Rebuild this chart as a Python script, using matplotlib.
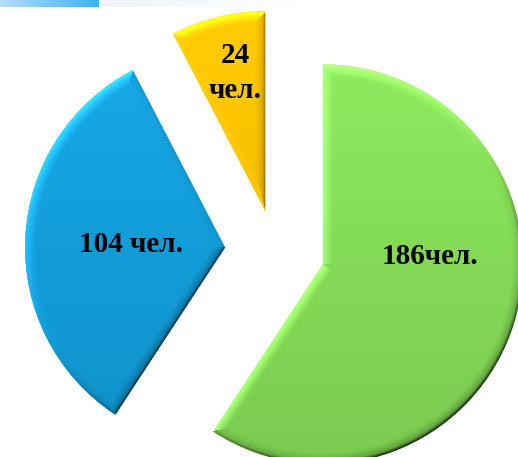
import numpy as np
import matplotlib
matplotlib.use("Agg")
import matplotlib.pyplot as plt
from matplotlib.colors import to_rgb

# ---- data ----
values = [186, 104, 24]
labels = ["186чел.", "104 чел.", "24\nчел."]
colors = ["#84DA56", "#129DD8", "#F4BE00"]
explode = [0.25, 0.25, 0.2]

W, H = 518, 457
fig = plt.figure(figsize=(W / 100, H / 100), dpi=100)
fig.patch.set_facecolor("white")
ax = fig.add_axes([0, 0, 1, 1])

wedges, _ = ax.pie(values, colors=colors, explode=explode, startangle=90,
                   counterclock=False, radius=1.0,
                   wedgeprops=dict(linewidth=0))

x0, x1 = -1.375, 1.215
y0, y1 = -1.035, 1.25
ax.set_xlim(x0, x1)
ax.set_ylim(y0, y1)
ax.set_aspect("equal")
ax.axis("off")

# ---- bevel / gradient shading clipped to each wedge ----
xs = np.linspace(x0, x1, W)
ys = np.linspace(y1, y0, H)
X, Y = np.meshgrid(xs, ys)
L = np.array([-0.55, 0.83])  # light from upper-left
bw = 0.06

for w, c in zip(wedges, colors):
    cx, cy = w.center
    t1, t2 = w.theta1, w.theta2
    dx, dy = X - cx, Y - cy
    r = np.hypot(dx, dy)
    phi = np.degrees(np.arctan2(dy, dx))
    phi = (phi - t1) % 360 + t1
    a1 = np.radians(phi - t1)
    a2 = np.radians(t2 - phi)
    d1 = np.where(a1 < np.pi / 2, r * np.sin(a1), 9)
    d2 = np.where(a2 < np.pi / 2, r * np.sin(a2), 9)
    darc = 1 - r
    nxa, nya = dx / np.maximum(r, 1e-6), dy / np.maximum(r, 1e-6)
    n1 = np.array([np.cos(np.radians(t1 - 90)), np.sin(np.radians(t1 - 90))])
    n2 = np.array([np.cos(np.radians(t2 + 90)), np.sin(np.radians(t2 + 90))])
    dmin = np.minimum(np.minimum(d1, d2), darc)
    ndotl = np.where(dmin == darc, nxa * L[0] + nya * L[1],
                     np.where(dmin == d1, n1 @ L, n2 @ L))
    prof = np.clip(1 - dmin / bw, 0, 1) ** 1.5
    shade = 1 + 0.35 * ndotl * prof
    rim = np.clip(1 - dmin / 0.015, 0, 1) * np.clip(-ndotl, 0, 1)
    shade = shade - 0.45 * rim
    shade = shade * (1 + 0.07 * (Y - cy))
    base = np.array(to_rgb(c))
    img = np.clip(base[None, None, :] * shade[..., None], 0, 1)
    hl = np.clip(shade - 1, 0, 1)[..., None]
    img = np.clip(img + hl * 0.3 * (1 - base[None, None, :]), 0, 1)
    im = ax.imshow(img, extent=(x0, x1, y0, y1), origin="upper",
                   interpolation="bilinear", zorder=2)
    im.set_clip_path(w)

# ---- labels ----
font = dict(family="Liberation Serif", weight="bold", size=21, color="black",
            ha="center", va="center", zorder=5)
ax.text((430 - 275) / 200, (250 - 257) / 200, labels[0], **font)
ax.text((131 - 275) / 200, (250 - 245) / 200, labels[1], **font)
ax.text((235 - 275) / 200, (250 - 73) / 200, labels[2], linespacing=1.35, **font)

# ---- top-left decoration bar ----
deco = fig.add_axes([0, 1 - 7 / H, 300 / W, 7 / H])
deco.axis("off")
g = np.linspace(0, 1, 300)
c_a = np.array(to_rgb("#B5DDF8"))
c_b = np.array(to_rgb("#3BB3F6"))
c_c = np.array(to_rgb("#EEF4FA"))
row = np.where(g[:, None] < 0.33,
               c_a + (c_b - c_a) * (g[:, None] / 0.33),
               c_c + (np.array([1, 1, 1]) - c_c) * ((g[:, None] - 0.33) / 0.67))
strip = np.repeat(row[None, :, :], 7, axis=0)
deco.imshow(strip, extent=(0, 300, 0, 7), aspect="auto")
deco.set_xlim(0, 300)
deco.set_ylim(0, 7)

fig.savefig("out.png", dpi=100, facecolor="white")
